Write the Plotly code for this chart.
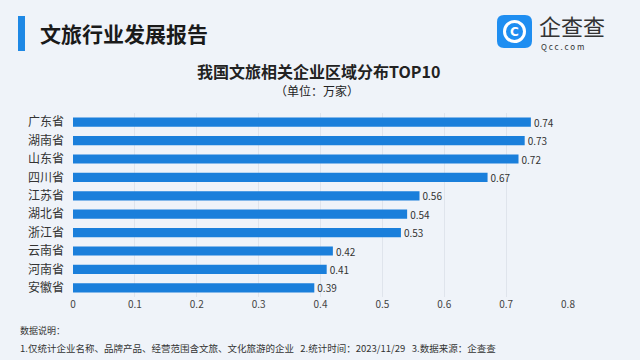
import plotly.graph_objects as go

provinces = ["广东省", "湖南省", "山东省", "四川省", "江苏省", "湖北省", "浙江省", "云南省", "河南省", "安徽省"]
values = [0.74, 0.73, 0.72, 0.67, 0.56, 0.54, 0.53, 0.42, 0.41, 0.39]
x_ticks = [0, 0.1, 0.2, 0.3, 0.4, 0.5, 0.6, 0.7, 0.8]

W, H = 640, 360
L, R, T, B = 73, 568, 113, 297

def px(x):
    return (x - L) / (R - L)

def py(y):
    return (B - y) / (B - T)

FONT = "Noto Sans CJK SC"
BLUE = "#1a7fdb"

fig = go.Figure()
fig.add_trace(go.Bar(
    x=values, y=provinces, orientation="h",
    marker=dict(color=BLUE, line=dict(width=0)),
    text=[f"{v:.2f}" for v in values], textposition="outside",
    textfont=dict(size=10, color="#333333", family=FONT),
    constraintext="none",
    cliponaxis=False, width=0.5,
))

fig.update_layout(
    width=W, height=H,
    margin=dict(l=L, r=W - R, t=T, b=H - B, pad=0),
    paper_bgcolor="#eff3f9", plot_bgcolor="rgba(0,0,0,0)",
    showlegend=False,
    font=dict(family=FONT, color="#333333"),
    xaxis=dict(range=[0, 0.8], tickvals=x_ticks, ticktext=[f"{t:g}" for t in x_ticks],
               showgrid=True, gridcolor="#dfe4ec", gridwidth=1, zeroline=False,
               tickfont=dict(size=10, color="#444444"), ticks="", ticklen=0,
               showline=False, fixedrange=True),
    yaxis=dict(categoryorder="array", categoryarray=provinces[::-1],
               tickfont=dict(size=12, color="#333333"), ticks="", ticklabelstandoff=8,
               showgrid=False, zeroline=False, showline=False),
)

shapes = []
# title accent bar
shapes.append(dict(type="rect", xref="paper", yref="paper",
                   x0=px(18), x1=px(25), y0=py(51), y1=py(16),
                   fillcolor="#1e88e5", line=dict(width=0), layer="above"))
# logo rounded square
x0, x1, y0, y1, r = 497, 532, 15, 48, 7
path = (f"M {px(x0+r)},{py(y0)} L {px(x1-r)},{py(y0)} Q {px(x1)},{py(y0)} {px(x1)},{py(y0+r)} "
        f"L {px(x1)},{py(y1-r)} Q {px(x1)},{py(y1)} {px(x1-r)},{py(y1)} "
        f"L {px(x0+r)},{py(y1)} Q {px(x0)},{py(y1)} {px(x0)},{py(y1-r)} "
        f"L {px(x0)},{py(y0+r)} Q {px(x0)},{py(y0)} {px(x0+r)},{py(y0)} Z")
shapes.append(dict(type="path", xref="paper", yref="paper", path=path,
                   fillcolor="#1f8ef1", line=dict(width=0), layer="above"))
# logo ring
cx, cy, rr = 514.5, 31.5, 10
shapes.append(dict(type="circle", xref="paper", yref="paper",
                   x0=px(cx - rr), x1=px(cx + rr), y0=py(cy + rr), y1=py(cy - rr),
                   fillcolor="rgba(0,0,0,0)", line=dict(color="white", width=3), layer="above"))
fig.update_layout(shapes=shapes)

def ann(text, x, y, size, color="#222222", xanchor="left", bold=False, family=FONT):
    fig.add_annotation(text=f"<b>{text}</b>" if bold else text, xref="paper", yref="paper",
                       x=px(x), y=py(y), xanchor=xanchor, yanchor="middle", showarrow=False,
                       font=dict(size=size, color=color, family=family))

ann("文旅行业发展报告", 38, 33, 21, "#1a1a1a", bold=True)
ann("C", 514.5, 31.5, 12, "white", xanchor="center", bold=True, family="DejaVu Sans")
ann("企查查", 537, 25, 22, "#333333")
ann("Q c c . c o m", 539, 46.5, 8, "#333333")
ann("我国文旅相关企业区域分布TOP10", 318, 71, 16, "#222222", xanchor="center", bold=True)
ann("（单位：万家）", 317, 91, 12, "#222222", xanchor="center")
ann("数据说明：", 18, 330, 9, "#333333")
ann("1.仅统计企业名称、品牌产品、经营范围含文旅、文化旅游的企业   2.统计时间：2023/11/29   3.数据来源：企查查",
    18, 348, 9.5, "#333333")

fig.write_html("out.html", post_script="document.body.style.margin='0';",
               config={"displayModeBar": False})
